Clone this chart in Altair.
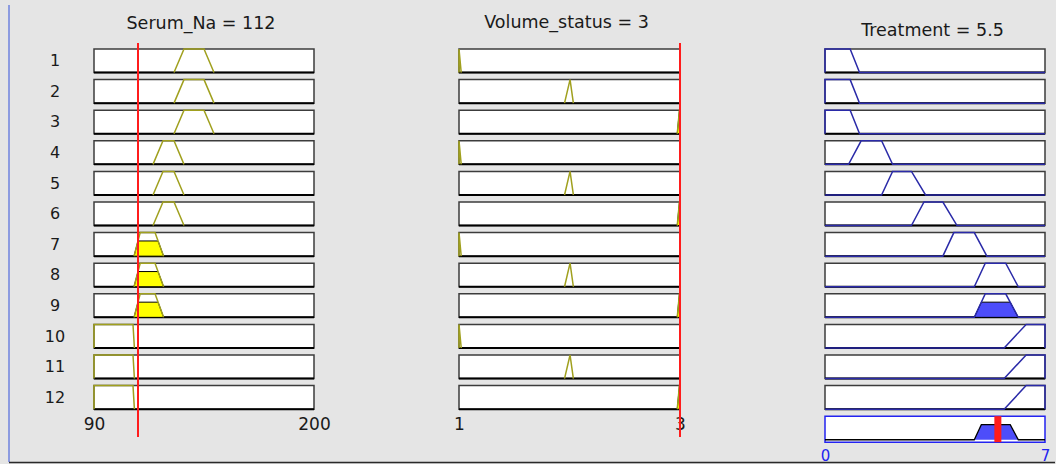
import altair as alt
import pandas as pd

# ---- Fuzzy rule base: Serum_Na, Volume_status -> Treatment ----
RULES = list(range(1, 13))

SERUM_NA_RANGE = [90, 200]
VOLUME_RANGE = [1, 3]
TREATMENT_RANGE = [0, 7]

SERUM_NA_TICKS = [90, 200]
VOLUME_TICKS = [1, 3]
TREATMENT_TICKS = [0, 7]

# trapezoid parameters [a, b, c, d]
SERUM_NA_MFS = [
    [130, 135, 145, 150],
    [119.5, 124.5, 130, 135],
    [110, 113.1, 120.5, 124.8],
    [90, 90, 109.5, 110.2],
]
VOLUME_MFS = [
    [1.0, 1.0, 1.0, 1.02],
    [1.955, 2.005, 2.005, 2.035],
    [2.975, 2.995, 3.0, 3.0],
]
TREATMENT_MFS = [
    [0, 0, 0.8, 1.1],
    [0.75, 1.15, 1.8, 2.15],
    [1.8, 2.15, 2.75, 3.2],
    [2.75, 3.15, 3.75, 4.2],
    [3.75, 4.1, 4.75, 5.15],
    [4.75, 5.1, 5.75, 6.15],
    [5.7, 6.4, 7, 7],
]

RULE_NA = [1, 1, 1, 2, 2, 2, 3, 3, 3, 4, 4, 4]
RULE_VOLUME = [1, 2, 3, 1, 2, 3, 1, 2, 3, 1, 2, 3]
RULE_TREATMENT = [1, 1, 1, 2, 3, 4, 5, 6, 6, 7, 7, 7]

SERUM_NA_INPUT = 112
VOLUME_INPUT = 3
TREATMENT_OUTPUT = 5.5

# ---- styling / layout ----
BG = "#e5e5e5"
OLIVE = "#a0a01e"
NAVY = "#2a2aa8"
BLUE_FILL = "#4d4dfa"
BLUE_EDGE = "#2323f0"
YELLOW = "#ffff00"
RED = "#ff1c1c"
BOX_EDGE = "#3c3c3c"
TEXT = "#1a1a1a"
FONT = "DejaVu Sans"

ROW_PX = 30.6            # pixels per rule row
FIRST_ROW_PX = 6         # gap from plot top to the first box
BOX_H = 0.77             # box height in row units
PLOT_H = 400
Y_TOP = -FIRST_ROW_PX / ROW_PX
Y_BOTTOM = Y_TOP + PLOT_H / ROW_PX
RED_END = 12.68
SUMMARY_PAD = 2.4 / ROW_PX

yscale = alt.Scale(domain=[Y_TOP, Y_BOTTOM], reverse=True, nice=False, zero=False)


def px_to_row(px_from_top):
    """Vertical position (pixels below the plot top) in row units."""
    return Y_TOP + px_from_top / ROW_PX


def trapmf(x, p):
    a, b, c, d = p
    if b <= x <= c:
        return 1.0
    if a < x < b:
        return (x - a) / (b - a)
    if c < x < d:
        return (d - x) / (d - c)
    return 0.0


def ypos(row, mu):
    return (row - 1) + BOX_H * (1 - mu)


def clipped(p, h):
    a, b, c, d = p
    return [(a, 0), (a + (b - a) * h, h), (d - (d - c) * h, h), (d, 0)]


mu_na = [trapmf(SERUM_NA_INPUT, SERUM_NA_MFS[k - 1]) for k in RULE_NA]
mu_vol = [trapmf(VOLUME_INPUT, VOLUME_MFS[k - 1]) for k in RULE_VOLUME]
firing = [min(a, b) for a, b in zip(mu_na, mu_vol)]


def x_axis(ticks, offset, color, size):
    return alt.Axis(values=ticks, format="d", labelFlush=False, domain=False,
                    ticks=False, tickSize=0, grid=False, labelPadding=0,
                    offset=offset, labelFont=FONT, labelFontSize=size,
                    labelColor=color, labelBaseline="top", labelAlign="center",
                    title=None)


row_axis = alt.Axis(values=[r - 1 + BOX_H / 2 for r in RULES],
                    labelExpr=f"format(round(datum.value - {BOX_H / 2}) + 1, 'd')",
                    domain=False, ticks=False, tickSize=0, grid=False,
                    labelPadding=39.5, labelAlign="center", labelBaseline="middle",
                    labelFont=FONT, labelFontSize=16, labelColor=TEXT, title=None)


def title_layer(text, rng, width, X, Y, base_px, dx_px):
    mid = (rng[0] + rng[1]) / 2 + dx_px * (rng[1] - rng[0]) / width
    df = pd.DataFrame({"x": [mid], "y": [px_to_row(base_px)], "label": [text]})
    return alt.Chart(df).mark_text(font=FONT, fontSize=17.5, color=TEXT,
                                   baseline="alphabetic", align="center").encode(
        X, Y, text="label:N")


def input_column(title, rng, ticks, mfs, rule_mf, mu, value, width,
                 show_rows, t_base, t_dx, extra=None):
    X = alt.X("x:Q", scale=alt.Scale(domain=rng, nice=False, zero=False),
              axis=x_axis(ticks, -27, TEXT, 17), title=None)
    Y = alt.Y("y:Q", scale=yscale, axis=row_axis if show_rows else None,
              title=None, stack=None)

    boxes = pd.DataFrame({"x": rng[0], "x2": rng[1],
                          "y": [r - 1 for r in RULES],
                          "y2": [r - 1 + BOX_H for r in RULES]})
    bottoms = pd.DataFrame({"x": rng[0], "x2": rng[1],
                            "y": [r - 1 + BOX_H for r in RULES]})
    lines, fills = [], []
    for r, k, m in zip(RULES, rule_mf, mu):
        p = mfs[k - 1]
        for i, (x, lv) in enumerate([(p[0], 0), (p[1], 1), (p[2], 1), (p[3], 0)]):
            lines.append({"rule": r, "i": i, "x": x, "y": ypos(r, lv)})
        if m > 0:
            for i, (x, lv) in enumerate(clipped(p, m)):
                fills.append({"rule": r, "i": i, "x": x, "y": ypos(r, lv),
                              "y2": ypos(r, 0)})
    red = pd.DataFrame({"x": [value], "y": [Y_TOP], "y2": [RED_END]})

    layers = [
        alt.Chart(boxes).mark_rect(fill="white", stroke=BOX_EDGE, strokeWidth=1.5)
        .encode(X, alt.X2("x2:Q"), Y, alt.Y2("y2:Q")),
        alt.Chart(bottoms).mark_rule(color="black", strokeWidth=2)
        .encode(X, alt.X2("x2:Q"), Y),
    ]
    if fills:
        layers.append(
            alt.Chart(pd.DataFrame(fills)).mark_area(fill=YELLOW, stroke="black",
                                                     strokeWidth=1, opacity=1)
            .encode(X, Y, alt.Y2("y2:Q"), detail="rule:N"))
    layers.append(
        alt.Chart(pd.DataFrame(lines)).mark_line(color=OLIVE, strokeWidth=1.5)
        .encode(X, Y, detail="rule:N", order="i:Q"))
    layers.append(
        alt.Chart(red).mark_rule(color=RED, strokeWidth=2).encode(X, Y, alt.Y2("y2:Q")))
    layers.append(title_layer(title, rng, width, X, Y, t_base, t_dx))
    if extra:
        layers += extra
    return alt.layer(*layers).properties(width=width, height=PLOT_H)


def output_column(width):
    rng = TREATMENT_RANGE
    X = alt.X("x:Q", scale=alt.Scale(domain=rng, nice=False, zero=False),
              axis=x_axis(TREATMENT_TICKS, 5.5, BLUE_EDGE, 15), title=None)
    Y = alt.Y("y:Q", scale=yscale, axis=None, title=None, stack=None)

    boxes = pd.DataFrame({"x": rng[0], "x2": rng[1],
                          "y": [r - 1 for r in RULES],
                          "y2": [r - 1 + BOX_H for r in RULES]})
    bottoms = pd.DataFrame({"x": rng[0], "x2": rng[1],
                            "y": [r - 1 + BOX_H for r in RULES]})
    lines, fills = [], []
    for r, k, f in zip(RULES, RULE_TREATMENT, firing):
        p = TREATMENT_MFS[k - 1]
        pts = [(rng[0], 0), (p[0], 0), (p[1], 1), (p[2], 1), (p[3], 0), (rng[1], 0)]
        for i, (x, lv) in enumerate(pts):
            lines.append({"rule": r, "i": i, "x": x, "y": ypos(r, lv)})
        if f > 0:
            for i, (x, lv) in enumerate(clipped(p, f)):
                fills.append({"rule": r, "i": i, "x": x, "y": ypos(r, lv),
                              "y2": ypos(r, 0)})

    # aggregated output (max of clipped consequents) in the summary row
    srow = len(RULES) + 1
    xs = set([rng[0], rng[1]] + [round(rng[0] + i * 0.005, 4) for i in range(1401)])
    for k, f in zip(RULE_TREATMENT, firing):
        if f > 0:
            xs.update(x for x, _ in clipped(TREATMENT_MFS[k - 1], f))
    agg = []
    for i, x in enumerate(sorted(xs)):
        lv = max(min(f, trapmf(x, TREATMENT_MFS[k - 1]))
                 for k, f in zip(RULE_TREATMENT, firing))
        agg.append({"i": i, "x": x, "y": ypos(srow, lv), "y2": ypos(srow, 0)})
    agg = pd.DataFrame(agg)
    sbox = pd.DataFrame({"x": [rng[0]], "x2": [rng[1]], "y": [srow - 1],
                         "y2": [srow - 1 + BOX_H + SUMMARY_PAD]})
    sbar = pd.DataFrame({"x": [TREATMENT_OUTPUT], "y": [srow - 1],
                         "y2": [srow - 1 + BOX_H + SUMMARY_PAD]})

    layers = [
        alt.Chart(boxes).mark_rect(fill="white", stroke=BOX_EDGE, strokeWidth=1.5)
        .encode(X, alt.X2("x2:Q"), Y, alt.Y2("y2:Q")),
        alt.Chart(bottoms).mark_rule(color="black", strokeWidth=2)
        .encode(X, alt.X2("x2:Q"), Y),
        alt.Chart(sbox).mark_rect(fill="white", stroke=BLUE_EDGE, strokeWidth=1.5)
        .encode(X, alt.X2("x2:Q"), Y, alt.Y2("y2:Q")),
    ]
    if fills:
        layers.append(
            alt.Chart(pd.DataFrame(fills)).mark_area(fill=BLUE_FILL, stroke="black",
                                                     strokeWidth=1, opacity=1)
            .encode(X, Y, alt.Y2("y2:Q"), detail="rule:N"))
    layers += [
        alt.Chart(pd.DataFrame(lines)).mark_line(color=NAVY, strokeWidth=1.5)
        .encode(X, Y, detail="rule:N", order="i:Q"),
        alt.Chart(agg).mark_area(fill=BLUE_FILL, opacity=1)
        .encode(X, Y, alt.Y2("y2:Q")),
        alt.Chart(agg).mark_line(color="black", strokeWidth=1.3)
        .encode(X, Y, order="i:Q"),
        alt.Chart(sbar).mark_rule(color=RED, strokeWidth=7)
        .encode(X, Y, alt.Y2("y2:Q")),
        title_layer(f"Treatment = {TREATMENT_OUTPUT}", rng, width, X, Y, -7.3, -2.5),
    ]
    return alt.layer(*layers).properties(width=width, height=PLOT_H)


# window frame: left edge and bottom edge
anchor = pd.DataFrame({"k": [0]})
frame = [
    alt.Chart(anchor).mark_rule(color="#8c9be0", strokeWidth=2)
    .encode(x=alt.value(-85), y=alt.value(-38), y2=alt.value(419)),
    alt.Chart(anchor).mark_rule(color="#2a2a2a", strokeWidth=1.5)
    .encode(x=alt.value(-85), x2=alt.value(961), y=alt.value(419.5)),
]

col_na = input_column(f"Serum_Na = {SERUM_NA_INPUT}", SERUM_NA_RANGE, SERUM_NA_TICKS,
                      SERUM_NA_MFS, RULE_NA, mu_na, SERUM_NA_INPUT, 220,
                      True, -14, -3, extra=frame)
col_vol = input_column(f"Volume_status = {VOLUME_INPUT}", VOLUME_RANGE, VOLUME_TICKS,
                       VOLUME_MFS, RULE_VOLUME, mu_vol, VOLUME_INPUT, 221,
                       False, -14.7, -3)
col_out = output_column(220)

chart = (
    alt.hconcat(col_na, col_vol, col_out, spacing=145, bounds="flush")
    .properties(background=BG, padding={"left": 8, "top": 4, "right": 0, "bottom": 0})
    .configure(font=FONT)
    .configure_view(stroke="transparent", strokeWidth=0)
)

chart.save("out.html", embed_options={"renderer": "svg", "actions": False})
